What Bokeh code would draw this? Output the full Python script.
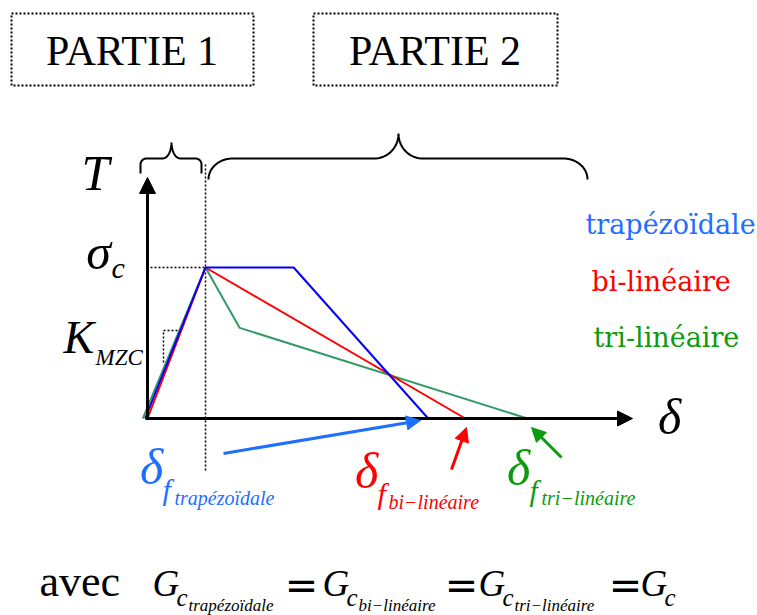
import numpy as np
from bokeh.plotting import figure
from bokeh.models import Range1d, Arrow, NormalHead
from bokeh.core.properties import value
from bokeh.embed import file_html
from bokeh.resources import INLINE

# ---------------- data (normalised: delta / delta_c , T / sigma_c) ----------------
delta_trap = [-0.04, 1.0, 2.52, 4.84]
T_trap = [0.0, 1.0, 1.0, 0.0]
delta_bi = [0.0, 1.0, 5.48]
T_bi = [0.0, 1.0, 0.0]
delta_tri = [-0.08, 1.0, 1.59, 6.55]
T_tri = [0.0, 1.0, 0.60, 0.0]

legend_labels = ["trapézoïdale", "bi-linéaire", "tri-linéaire"]
sub_labels = ["trapézoïdale", "bi−linéaire", "tri−linéaire"]
parts = ["PARTIE 1", "PARTIE 2"]

C_TRAP, C_BI, C_TRI = "#0000ff", "#ff0000", "#339966"
T_BLUE, T_RED, T_GREEN = "#1f6fff", "#ff0000", "#0e9a0e"

# ---------------- layout helpers (picture pixel -> data units) ----------------
W, H = 757, 615
OX, OY = 147.0, 418.0
SX, SY = 58.0, 151.0


def X(px):
    return (px - OX) / SX


def Y(py):
    return (OY - py) / SY


p = figure(width=W, height=H,
           x_range=Range1d(X(0), X(W)), y_range=Range1d(Y(H), Y(0)),
           output_backend="svg", toolbar_location=None, min_border=0,
           x_axis_location=None, y_axis_location=None,
           outline_line_color=None, background_fill_color="white",
           border_fill_color="white")
p.grid.grid_line_color = None

SERIF = value("Liberation Serif")
DSERIF = value("DejaVu Serif")
BASE_FIX = 0.39  # measured offset of the svg alphabetic baseline, in em


def t(x, y, s, size, font=SERIF, style="italic", color="black", align="left",
      baseline="alphabetic"):
    yy = y - BASE_FIX * size if baseline == "alphabetic" else y
    p.text(x=[X(x)], y=[Y(yy)], text=[s], text_font=font, text_font_style=style,
           text_font_size=f"{size}px", text_color=color, text_align=align,
           text_baseline=baseline)


# ---------------- title boxes ----------------
p.quad(left=[X(11), X(313)], right=[X(253), X(557)], top=[Y(13)] * 2, bottom=[Y(85)] * 2,
       fill_color=None, line_color="black", line_dash="2 2", line_width=2)
t(131.5, 67, parts[0], 42, style="normal", align="center")
t(434.5, 67, parts[1], 42, style="normal", align="center")


# ---------------- braces ----------------
def brace(x0, x1, xm, yl, ytip, ypk, rxe, rye, rxm, n=24):
    xs, ys = [x0], [ytip]
    a = np.linspace(np.pi, 1.5 * np.pi, n)
    xs += list(x0 + rxe + rxe * np.cos(a)); ys += list(yl + rye + rye * np.sin(a))
    a = np.linspace(0.5 * np.pi, 0.0, n)
    xs += list(xm - rxm + rxm * np.cos(a)); ys += list(ypk + (yl - ypk) * np.sin(a))
    a = np.linspace(np.pi, 0.5 * np.pi, n)
    xs += list(xm + rxm + rxm * np.cos(a)); ys += list(ypk + (yl - ypk) * np.sin(a))
    a = np.linspace(1.5 * np.pi, 2.0 * np.pi, n)
    xs += list(x1 - rxe + rxe * np.cos(a)); ys += list(yl + rye + rye * np.sin(a))
    xs.append(x1); ys.append(ytip)
    return [X(float(v)) for v in xs], [Y(float(v)) for v in ys]


bx, by = brace(140, 201, 171, 158, 173, 142, 6, 6, 9)
p.line(bx, by, line_color="black", line_width=2)
bx, by = brace(208, 587, 398, 158, 179, 133, 24, 21, 24)
p.line(bx, by, line_color="black", line_width=2)

# ---------------- guides ----------------
p.line([X(150), delta_trap[1]], [T_trap[1], T_trap[1]], line_color="black",
       line_dash="2 2", line_width=1.5)
p.line([delta_trap[1], delta_trap[1]], [Y(470), Y(162)], line_color="black",
       line_dash="2 2", line_width=1.5)
p.line([X(177), X(163), X(163)], [Y(330), Y(330), Y(362)], line_color="black",
       line_dash="2 2", line_width=1.5)

# ---------------- axes ----------------
p.add_layout(Arrow(end=NormalHead(size=16, fill_color="black", line_color="black"),
                   x_start=0, y_start=Y(419), x_end=0, y_end=Y(177),
                   line_width=3, line_color="black"))
p.add_layout(Arrow(end=NormalHead(size=15, fill_color="black", line_color="black"),
                   x_start=X(145), y_start=0, x_end=X(632), y_end=0,
                   line_width=3, line_color="black"))

# ---------------- curves ----------------
p.line(delta_tri, T_tri, line_color=C_TRI, line_width=2)
p.line(delta_bi, T_bi, line_color=C_BI, line_width=2)
p.line(delta_trap, T_trap, line_color=C_TRAP, line_width=2)

# ---------------- pointer arrows ----------------
for (xs, ys, xe, ye, c) in [(223, 453, 420, 420, T_BLUE),
                            (451, 469, 466, 427, T_RED),
                            (561, 457, 531, 427, T_GREEN)]:
    p.add_layout(Arrow(end=NormalHead(size=14, fill_color=c, line_color=c),
                       x_start=X(xs), y_start=Y(ys), x_end=X(xe), y_end=Y(ye),
                       line_width=3, line_color=c))

# ---------------- axis labels ----------------
t(95, 192, "T", 50, align="center")
t(98, 271, "σ", 50, align="center")
t(111, 279, "c", 30)
t(63, 355, "K", 46)
t(95, 366, "MZC", 23)
t(669, 436, "δ", 50, align="center")

# delta_f labels
for (dx, dy_, fx, fy, sx, sy, s, c) in [(151, 486, 162, 501, 174, 505, sub_labels[0], T_BLUE),
                                       (366, 490, 377, 505, 388, 509, sub_labels[1], T_RED),
                                       (518, 487, 529, 502, 541, 505, sub_labels[2], T_GREEN)]:
    t(dx, dy_, "δ", 50, color=c, align="center")
    t(fx, fy, "f", 30, color=c)
    t(sx, sy, s, 20, color=c)

# legend texts
t(585, 235, legend_labels[0], 27, font=DSERIF, style="normal", color=T_BLUE)
t(591, 292, legend_labels[1], 27, font=DSERIF, style="normal", color=T_RED)
t(593, 348, legend_labels[2], 27, font=DSERIF, style="normal", color=T_GREEN)

# ---------------- equation ----------------
t(39, 598, "avec", 44, style="normal")
for (gx, s) in [(152, sub_labels[0]), (322, sub_labels[1]), (478, sub_labels[2]), (640, None)]:
    t(gx, 597, "G", 37)
    t(gx + 24, 607, "c", 25)
    if s is not None:
        t(gx + 36, 612, s, 17)
for ex in [301, 461, 625]:
    t(ex, 584, "=", 40, font=value("DejaVu Sans"), style="normal",
      align="center", baseline="middle")

open("out.html", "w").write(file_html(p, INLINE))
